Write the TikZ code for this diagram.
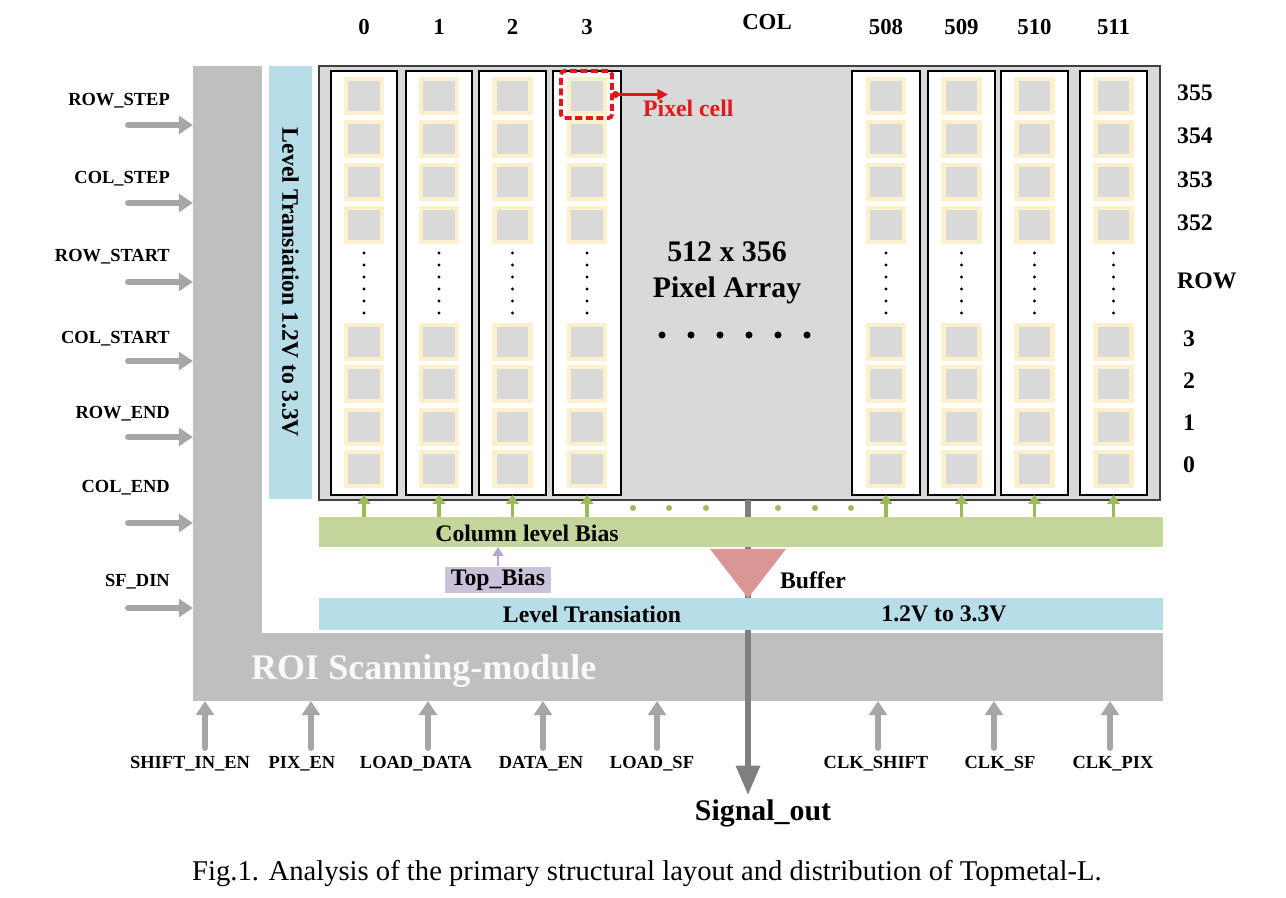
\documentclass[tikz,border=0pt]{standalone}
\usepackage{fontspec}
\setmainfont{Liberation Serif}
\usetikzlibrary{arrows.meta,fit,positioning}
\definecolor{roigray}{HTML}{BFBFBF}
\definecolor{arrgray}{HTML}{D9D9D9}
\definecolor{ltblue}{HTML}{B7DDE8}
\definecolor{biasgreen}{HTML}{C3D69B}
\definecolor{arrowgreen}{HTML}{9BBB59}
\definecolor{cellframe}{HTML}{FDF0CB}
\definecolor{ingray}{HTML}{A6A6A6}
\definecolor{siggray}{HTML}{7F7F7F}
\definecolor{bufred}{HTML}{D99694}
\definecolor{lavarrow}{HTML}{B4A7D6}
\definecolor{lavfill}{HTML}{CCC1DA}
\definecolor{cellred}{HTML}{E3161B}
\begin{document}
\begin{tikzpicture}[x=0.02cm,y=-0.02cm,
  every node/.style={font=\bfseries\fontsize{13.5}{16}\selectfont},
  blk/.style={fit={#1},inner sep=0,outer sep=0},
  sig/.style={font=\bfseries\fontsize{10.5}{12}\selectfont,anchor=base},
  collbl/.style={font=\bfseries\fontsize{13}{15}\selectfont,anchor=base},
  rowlbl/.style={font=\bfseries\fontsize{13.5}{16}\selectfont,anchor=base},
  inarrow/.style={draw=ingray,line width=3.4pt,line cap=round,-{Triangle[length=8pt,width=10pt]}},
  biasarrow/.style={draw=arrowgreen,line width=2pt,-{Triangle[length=5pt,width=7pt]}},
  colbox/.style={draw=black,line width=0.6pt,fill=white},
  cell/.style={draw=cellframe,line width=2.3pt,fill=arrgray,minimum width=0.72cm,minimum height=0.68cm,inner sep=0}]
\useasboundingbox (0,0) rectangle (1286,898);

\node[fill=roigray,blk={(193,66) (262,633)}] (roiv) {};
\node[fill=roigray,blk={(193,633) (1163,701)}] (roih) {};
\node[text=white!95!gray,font=\bfseries\fontsize{20.5}{24}\selectfont,anchor=base west] (roilbl) at (245,680) {ROI Scanning-module};

\node[fill=ltblue,blk={(269,66) (312,499)}] (ltv) {};
\node[rotate=-90] (ltvlbl) at (ltv.center) {Level Transiation 1.2V to 3.3V};

\node[draw=darkgray,line width=1.2pt,fill=arrgray,blk={(319,66) (1160,500)}] (array) {};
\node[align=center,font=\bfseries\fontsize{17}{20.4}\selectfont] (arrlbl) at (727,273) {512 x 356\\Pixel Array};
\foreach \dx in {662,691,...,807}
  \fill (\dx,335) circle (2pt);
\node[collbl] (collbl) at (767,30) {COL};

\foreach \xa/\xb/\lab [count=\i] in {331/397/0,406/472/1,479/546/2,553/621/3,852/920/508,928/995/509,1001/1068/510,1080/1147/511}{
  \node[colbox,blk={(\xa,71) (\xb,495)}] (col\i) {};
  \node[collbl] (cl\i) at (col\i.north |- 0,35) {\lab};
  \foreach \cy [count=\j] in {96,139,182,225,342,384,427,469}
    \node[cell] (cell\i-\j) at (col\i.center |- 0,\cy) {};
  \foreach \dy in {253,265,...,313}
    \fill (col\i.center |- 0,\dy) circle (0.9pt);
}

\foreach \nm/\ry [count=\k] in {355/101,354/144,353/188,352/231,ROW/289}
  \node[rowlbl,anchor=base west] (rl\k) at (1171,\ry) {\nm};
\foreach \nm/\ry [count=\k] in {3/347,2/389,1/431,0/473}
  \node[rowlbl] (rd\k) at (1189,\ry) {\nm};

\node[draw=cellred,line width=2.2pt,dash pattern=on 4pt off 2pt,rounded corners=2pt,blk={(561,71) (612,118)}] (pcbox) {};
\coordinate (pctip) at (pcbox.east -| 668,0);
\draw[cellred,line width=1.3pt,{Circle[length=4pt]}-{Triangle[length=6pt,width=6pt]}] (pcbox.east) -- (pctip);
\node[text=cellred,anchor=base west] (pclbl) at (637,117) {Pixel cell};

\coordinate (bufapex) at (748,598);
\node[font=\bfseries\fontsize{17}{20}\selectfont,anchor=base,inner sep=2pt] (sigout) at (763,820) {Signal\_out};
\draw[siggray,line width=3.8pt,-{Triangle[length=17pt,width=13pt]}] (array.south -| bufapex) -- (sigout.north -| bufapex);

\node[fill=biasgreen,blk={(319,517) (1163,547)}] (bias) {};
\node (biaslbl) at (527,533) {Column level Bias};
\foreach \i in {1,...,8}
  \draw[biasarrow] (col\i.south |- bias.north) -- (col\i.south);
\foreach \gx in {633,669,706,778,815,851}
  \fill[arrowgreen] (\gx,508) circle (1.7pt);

\node[fill=ltblue,blk={(319,598) (1163,630)}] (lth) {};
\node (ltlbl) at (592,614) {Level Transiation};
\node (ltvolt) at (944,614) {1.2V to 3.3V};

\fill[bufred] (710,549) -- (786,549) -- (bufapex) -- cycle;
\node (buflbl) at (813,580) {Buffer};

\node[fill=lavfill,minimum width=2.14cm,minimum height=0.54cm,inner sep=0] (topbias) at (498,580) {Top\_Bias};
\draw[lavarrow,line width=1.5pt,-{Triangle[length=5pt,width=6pt]}] (topbias.north) -- (topbias.north |- bias.south);

\foreach \nm/\ly/\ay [count=\k] in {ROW\_STEP/106/125,COL\_STEP/184/203,ROW\_START/262/282,COL\_START/344/361,ROW\_END/419/437,COL\_END/493/523,SF\_DIN/587/608}{
  \node[sig,anchor=base east] (lin\k) at (176,\ly) {\nm};
  \coordinate (lt\k) at (128,\ay);
  \draw[inarrow] (lt\k) -- (lt\k -| roiv.west);
}

\foreach \nm/\lx/\ax [count=\k] in {SHIFT\_IN\_EN/190/205,PIX\_EN/302/311,LOAD\_DATA/416/428,DATA\_EN/541/543,LOAD\_SF/652/657,CLK\_SHIFT/876/878,CLK\_SF/1000/994,CLK\_PIX/1113/1110}{
  \node[sig] (bin\k) at (\lx,768) {\nm};
  \coordinate (bt\k) at (\ax,748);
  \draw[inarrow] (bt\k) -- (bt\k |- roih.south);
}

\node[font=\fontsize{16.3}{19}\selectfont,anchor=base west] (caption) at (186,880) {Fig.1. Analysis of the primary structural layout and distribution of Topmetal-L.};
\end{tikzpicture}
\end{document}
